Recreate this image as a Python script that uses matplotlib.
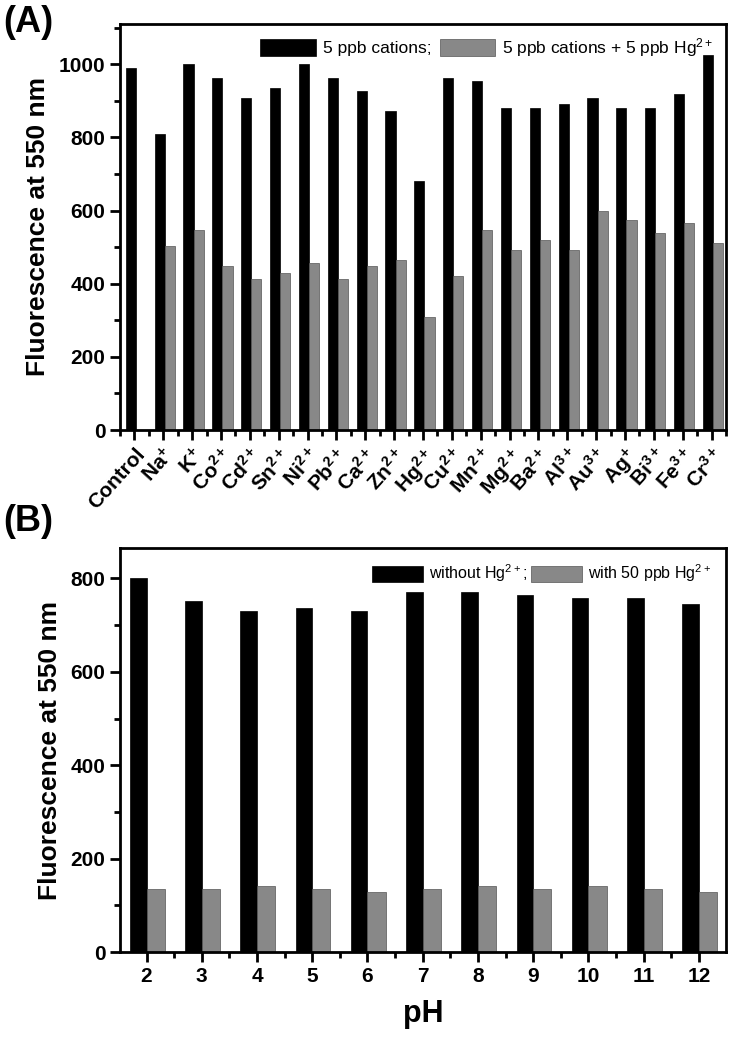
import numpy as np
import matplotlib
matplotlib.use('Agg')
import matplotlib.pyplot as plt
from matplotlib.ticker import MultipleLocator

plt.rcParams['font.family'] = 'Liberation Sans'
plt.rcParams['mathtext.default'] = 'regular'

# Panel A data
ions = ['Control', 'Na$^{+}$', 'K$^{+}$', 'Co$^{2+}$', 'Cd$^{2+}$', 'Sn$^{2+}$', 'Ni$^{2+}$',
        'Pb$^{2+}$', 'Ca$^{2+}$', 'Zn$^{2+}$', 'Hg$^{2+}$', 'Cu$^{2+}$', 'Mn$^{2+}$',
        'Mg$^{2+}$', 'Ba$^{2+}$', 'Al$^{3+}$', 'Au$^{3+}$', 'Ag$^{+}$', 'Bi$^{3+}$',
        'Fe$^{3+}$', 'Cr$^{3+}$']
cations = [989, 809, 1000, 962, 907, 935, 1000, 962, 926, 872, 681, 962, 954,
           880, 880, 891, 907, 880, 880, 918, 1024]
cations_hg = [0, 502, 547, 448, 412, 430, 457, 412, 448, 465, 310, 420, 547,
              492, 520, 492, 600, 573, 538, 565, 510]

# Panel B data
ph = [2, 3, 4, 5, 6, 7, 8, 9, 10, 11, 12]
without_hg = [800, 751, 731, 737, 731, 772, 772, 765, 758, 758, 745]
with_hg = [136, 136, 142, 136, 129, 136, 142, 136, 142, 136, 129]

fig = plt.figure(figsize=(7.3, 10.4), dpi=100)
ax1 = fig.add_axes([0.1644, 0.5865, 0.8301, 0.3905])
ax2 = fig.add_axes([0.1644, 0.0846, 0.8301, 0.3884])

grey = '#888888'


def style(ax):
    for s in ax.spines.values():
        s.set_linewidth(2)
    ax.tick_params(which='major', direction='out', length=7, width=2,
                   labelsize=15)
    ax.tick_params(which='minor', direction='out', length=4, width=2)
    ax.tick_params(top=False, right=False, which='both')
    for lab in ax.get_yticklabels() + ax.get_xticklabels():
        lab.set_fontweight('bold')
    ax.set_ylabel('Fluorescence at 550 nm', fontsize=19, fontweight='bold',
                  labelpad=6)


# (A)
x = np.arange(len(ions))
ax1.bar(x - 0.3, cations, width=0.35, align='edge', color='black',
        edgecolor='black', linewidth=0.5, label='5 ppb cations;')
ax1.bar(x + 0.05, cations_hg, width=0.35, align='edge', color=grey,
        edgecolor='#555555', linewidth=0.5,
        label='5 ppb cations + 5 ppb Hg$^{2+}$')
ax1.set_xlim(-0.5, len(ions) - 0.5)
ax1.set_ylim(0, 1110)
ax1.set_xticks(x)
ax1.set_xticks(np.arange(-0.5, len(ions), 1.0), minor=True)
ax1.yaxis.set_major_locator(MultipleLocator(200))
ax1.yaxis.set_minor_locator(MultipleLocator(100))
ax1.set_xticklabels(ions, rotation=48, ha='right', rotation_mode='anchor',
                    fontsize=14.5, fontweight='bold')
style(ax1)
ax1.legend(loc='upper right', ncol=2, frameon=False, fontsize=12.5,
           handlelength=3.2, handleheight=1.2, columnspacing=0.5,
           handletextpad=0.4, borderaxespad=0.3)
fig.text(0.005, 0.995, '(A)', fontsize=26, fontweight='bold', va='top')

# (B)
ax2.bar(ph, without_hg, width=-0.3, align='edge', color='black',
        edgecolor='black', linewidth=0.5, label='without Hg$^{2+}$;')
ax2.bar(ph, with_hg, width=0.33, align='edge', color=grey,
        edgecolor='#555555', linewidth=0.5, label='with 50 ppb Hg$^{2+}$')
ax2.set_xlim(1.52, 12.49)
ax2.set_ylim(0, 865)
ax2.set_xticks(ph)
ax2.xaxis.set_minor_locator(MultipleLocator(0.5))
ax2.yaxis.set_major_locator(MultipleLocator(200))
ax2.yaxis.set_minor_locator(MultipleLocator(100))
style(ax2)
ax2.set_xlabel('pH', fontsize=22, fontweight='bold', labelpad=10)
ax2.legend(loc='upper right', ncol=2, frameon=False, fontsize=11.5,
           handlelength=3.2, handleheight=1.2, columnspacing=0.2,
           handletextpad=0.4, borderaxespad=0.5)
fig.text(0.005, 0.515, '(B)', fontsize=26, fontweight='bold', va='top')

fig.savefig('out.png', dpi=100)
